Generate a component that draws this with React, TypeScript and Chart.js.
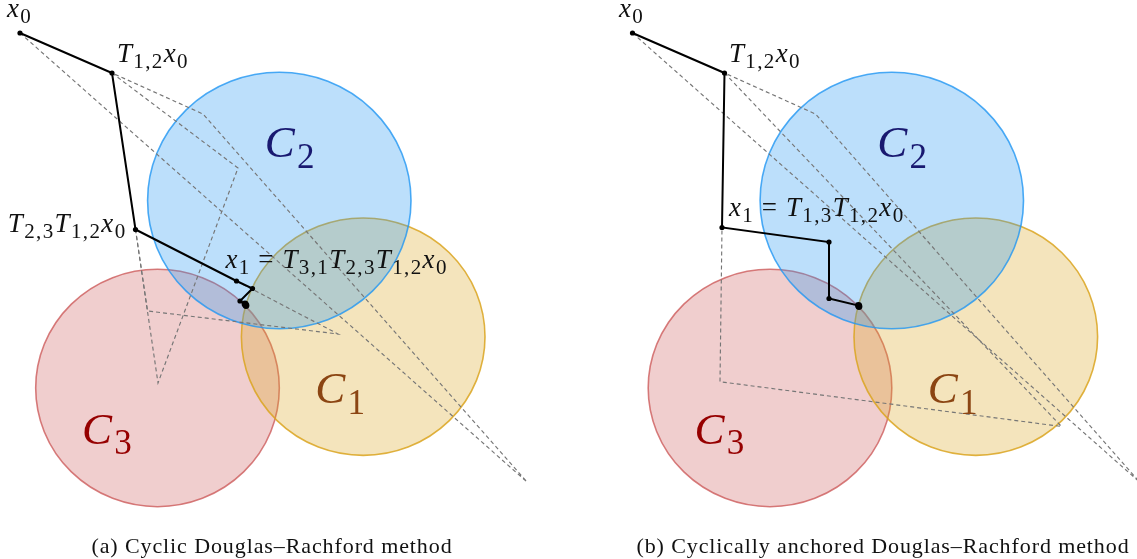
import { useEffect, useRef } from "react";
import { Chart, registerables } from "chart.js";

Chart.register(...registerables);

const WIDTH = 1137;
const HEIGHT = 559;

// ---- Sets (discs) C1, C2, C3 ----
const SET_LABELS = ["C_{1}", "C_{2}", "C_{3}"];
const LEFT_CENTER_X = [363.2, 279.3, 157.5];
const LEFT_CENTER_Y = [336.7, 200.5, 388];
const RIGHT_CENTER_X = [975.8, 891.8, 770];
const RIGHT_CENTER_Y = [336.7, 200.5, 388];
const RADIUS_X = [121.8, 131.7, 121.8];
const RADIUS_Y = [118.7, 128.2, 118.7];

// ---- Iterates (solid path) ----
const LEFT_PATH_X = [20, 112, 135.5, 236.5, 252.5, 240, 245, 246];
const LEFT_PATH_Y = [33, 73, 229.5, 281, 288.5, 301, 304, 305.5];
const RIGHT_PATH_X = [632.5, 724.5, 722, 829, 829, 858.5, 859];
const RIGHT_PATH_Y = [33, 73, 227.5, 242, 298.5, 305.5, 306.5];

// ---- Reflections (dashed polylines) ----
const LEFT_REFLECT_A: [number, number][] = [[20, 33], [527, 482], [203, 114], [112, 73]];
const LEFT_REFLECT_B: [number, number][] = [[112, 73], [238, 168], [158, 383], [135.5, 229.5]];
const LEFT_REFLECT_C: [number, number][] = [[135.5, 229.5], [147.5, 311], [338, 334], [236.5, 281]];
const RIGHT_REFLECT_A: [number, number][] = [[632.5, 33], [1139.5, 482], [815.5, 114], [724.5, 73]];
const RIGHT_REFLECT_B: [number, number][] = [[724.5, 73], [1061.5, 426.5], [720, 381.7], [722, 227.5]];

// ---- Text ----
const LEFT_POINT_LABELS = ["x_{0}", "T_{1,2}x_{0}", "T_{2,3}T_{1,2}x_{0}", "x_{1} = T_{3,1}T_{2,3}T_{1,2}x_{0}"];
const RIGHT_POINT_LABELS = ["x_{0}", "T_{1,2}x_{0}", "x_{1} = T_{1,3}T_{1,2}x_{0}"];
const CAPTIONS = ["(a) Cyclic Douglas\u2013Rachford method", "(b) Cyclically anchored Douglas\u2013Rachford method"];

// ---- Styles ----
const SET_FILL = ["rgba(218,165,32,0.3)", "rgba(33,150,243,0.3)", "rgba(205,92,92,0.3)"];
const SET_STROKE = ["rgba(218,165,32,0.85)", "rgba(33,150,243,0.8)", "rgba(205,92,92,0.8)"];
const SET_TEXT = ["rgb(139,69,19)", "rgb(25,25,112)", "rgb(150,0,0)"];
const DRAW_ORDER = [2, 0, 1];
const SET_LABEL_OFFSET: [number, number][] = [[-48, 66.3], [-14.5, -43.8], [-75.5, 55.5]];
const LEFT_LABEL_PLACE = [
  { at: 0, dx: -13, dy: -16.3, align: "left" },
  { at: 1, dx: 5, dy: -11, align: "left" },
  { at: 2, dx: -9, dy: 2.5, align: "right" },
  { at: 3, dx: -11, dy: -13, align: "left" },
];
const RIGHT_LABEL_PLACE = [
  { at: 0, dx: -13.5, dy: -16.3, align: "left" },
  { at: 1, dx: 4.5, dy: -11, align: "left" },
  { at: 2, dx: 7, dy: -11.5, align: "left" },
];
const MATH_FONT = '"Liberation Serif", "Times New Roman", serif';
const SUB_SCALE = 0.78;
const SUB_SHIFT = 0.24;
const LETTER_SPACING = 0.05;

type Tok = { ch: string; sub: boolean };

function tokenize(tex: string): Tok[] {
  const out: Tok[] = [];
  let i = 0;
  while (i < tex.length) {
    if (tex[i] === "_" && tex[i + 1] === "{") {
      const j = tex.indexOf("}", i);
      for (const c of tex.slice(i + 2, j)) out.push({ ch: c, sub: true });
      i = j + 1;
    } else {
      out.push({ ch: tex[i], sub: false });
      i++;
    }
  }
  return out;
}

function drawMath(
  ctx: CanvasRenderingContext2D,
  tex: string,
  x: number,
  y: number,
  size: number,
  color: string,
  align: string
) {
  const toks = tokenize(tex);
  const fontOf = (t: Tok) => {
    const s = t.sub ? size * SUB_SCALE : size;
    const it = /[A-Za-z]/.test(t.ch) ? "italic " : "";
    return `${it}${s}px ${MATH_FONT}`;
  };
  const widths = toks.map((t) => {
    if (t.ch === " ") return 0.28 * size;
    ctx.font = fontOf(t);
    return ctx.measureText(t.ch).width + LETTER_SPACING * size;
  });
  const total = widths.reduce((a, b) => a + b, 0);
  let cx = align === "right" ? x - total : x;
  ctx.save();
  ctx.fillStyle = color;
  ctx.textBaseline = "alphabetic";
  ctx.textAlign = "left";
  toks.forEach((t, k) => {
    if (t.ch !== " ") {
      ctx.font = fontOf(t);
      ctx.fillText(t.ch, cx, t.sub ? y + SUB_SHIFT * size : y);
    }
    cx += widths[k];
  });
  ctx.restore();
}

const toPts = (xs: number[], ys: number[]) => xs.map((x, i) => ({ x, y: ys[i] }));
const pairPts = (p: [number, number][]) => p.map(([x, y]) => ({ x, y }));

const PANELS: [number[], number[]][] = [
  [LEFT_CENTER_X, LEFT_CENTER_Y],
  [RIGHT_CENTER_X, RIGHT_CENTER_Y],
];

const discPlugin = {
  id: "discs",
  beforeDatasetsDraw(chart: any) {
    const { ctx, scales } = chart;
    const sx = scales.x;
    const sy = scales.y;
    ctx.save();
    for (const [cxs, cys] of PANELS) {
      for (const k of DRAW_ORDER) {
        const px = sx.getPixelForValue(cxs[k]);
        const py = sy.getPixelForValue(cys[k]);
        const rx = Math.abs(sx.getPixelForValue(cxs[k] + RADIUS_X[k]) - px);
        const ry = Math.abs(sy.getPixelForValue(cys[k] + RADIUS_Y[k]) - py);
        ctx.beginPath();
        ctx.ellipse(px, py, rx, ry, 0, 0, Math.PI * 2);
        ctx.fillStyle = SET_FILL[k];
        ctx.fill();
        ctx.lineWidth = 1.6;
        ctx.strokeStyle = SET_STROKE[k];
        ctx.stroke();
      }
    }
    ctx.restore();
  },
  afterDatasetsDraw(chart: any) {
    const { ctx, scales } = chart;
    const sx = scales.x;
    const sy = scales.y;
    for (const [cxs, cys] of PANELS) {
      SET_LABELS.forEach((lab, k) => {
        const px = sx.getPixelForValue(cxs[k]) + SET_LABEL_OFFSET[k][0];
        const py = sy.getPixelForValue(cys[k]) + SET_LABEL_OFFSET[k][1];
        drawMath(ctx, lab, px, py, 45, SET_TEXT[k], "left");
      });
    }
    const pl: [string[], typeof LEFT_LABEL_PLACE, number[], number[]][] = [
      [LEFT_POINT_LABELS, LEFT_LABEL_PLACE, LEFT_PATH_X, LEFT_PATH_Y],
      [RIGHT_POINT_LABELS, RIGHT_LABEL_PLACE, RIGHT_PATH_X, RIGHT_PATH_Y],
    ];
    for (const [labels, place, xs, ys] of pl) {
      labels.forEach((lab, k) => {
        const p = place[k];
        const px = sx.getPixelForValue(xs[p.at]) + p.dx;
        const py = sy.getPixelForValue(ys[p.at]) + p.dy;
        drawMath(ctx, lab, px, py, 27, "#111", p.align);
      });
    }
  },
};

function dashed(points: [number, number][]) {
  return {
    data: pairPts(points),
    showLine: true,
    borderColor: "rgb(118,118,118)",
    borderWidth: 1.15,
    borderDash: [4, 3],
    pointRadius: 0,
    order: 2,
  };
}

function solid(xs: number[], ys: number[]) {
  return {
    data: toPts(xs, ys),
    showLine: true,
    borderColor: "#000",
    borderWidth: 2,
    pointRadius: xs.map((_, i) => (i >= xs.length - 2 ? 3.4 : 2.6)),
    pointBackgroundColor: "#000",
    pointBorderWidth: 0,
    order: 1,
  };
}

export default function App() {
  const ref = useRef<HTMLCanvasElement | null>(null);
  useEffect(() => {
    if (!ref.current) return;
    const chart = new Chart(ref.current, {
      type: "scatter",
      data: {
        datasets: [
          solid(LEFT_PATH_X, LEFT_PATH_Y),
          solid(RIGHT_PATH_X, RIGHT_PATH_Y),
          dashed(LEFT_REFLECT_A),
          dashed(LEFT_REFLECT_B),
          dashed(LEFT_REFLECT_C),
          dashed(RIGHT_REFLECT_A),
          dashed(RIGHT_REFLECT_B),
        ] as any,
      },
      options: {
        animation: false,
        responsive: false,
        devicePixelRatio: 1,
        events: [],
        layout: { padding: 0, autoPadding: false },
        scales: {
          x: { type: "linear", min: 0, max: WIDTH, display: false },
          y: { type: "linear", min: 0, max: HEIGHT, reverse: true, display: false },
        },
        plugins: { legend: { display: false }, tooltip: { enabled: false } },
      } as any,
      plugins: [discPlugin],
    });
    return () => chart.destroy();
  }, []);

  const captionStyle = (center: number): any => ({
    position: "absolute",
    left: center - 300,
    width: 600,
    top: 534,
    textAlign: "center",
    fontFamily: '"Liberation Serif", serif',
    fontSize: 22,
    letterSpacing: "0.9px",
    lineHeight: "24px",
    color: "#111",
    whiteSpace: "nowrap",
  });

  return (
    <div style={{ position: "fixed", left: 0, top: 0, width: WIDTH, height: HEIGHT, background: "#fff" }}>
      <canvas ref={ref} width={WIDTH} height={HEIGHT} style={{ position: "absolute", left: 0, top: 0 }} />
      <div style={captionStyle(272)}>{CAPTIONS[0]}</div>
      <div style={captionStyle(883)}>{CAPTIONS[1]}</div>
    </div>
  );
}
